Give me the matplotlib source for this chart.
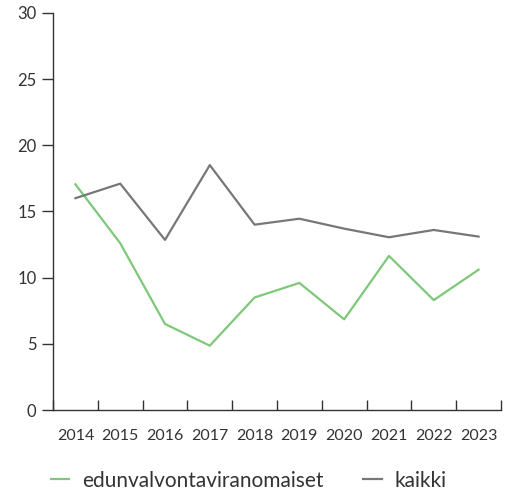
import matplotlib
matplotlib.use("Agg")
import matplotlib.pyplot as plt
import numpy as np

plt.rcParams["font.family"] = ["Lato", "DejaVu Sans"]

# Data
years = ["2014", "2015", "2016", "2017", "2018", "2019", "2020", "2021", "2022", "2023"]
edunvalvonta = [17.05, 12.6, 6.5, 4.86, 8.5, 9.6, 6.85, 11.64, 8.3, 10.6]
kaikki = [16.0, 17.1, 12.85, 18.5, 14.0, 14.45, 13.7, 13.05, 13.6, 13.1]

GREEN = "#7ec87a"
GREY = "#77777b"
TEXT = "#333333"

fig = plt.figure(figsize=(5.05, 4.94), dpi=100)
ax = fig.add_axes([0.105, 0.170, 0.887, 0.804])

x = np.arange(len(years))
ax.plot(x, edunvalvonta, color=GREEN, lw=1.6, label="edunvalvontaviranomaiset")
ax.plot(x, kaikki, color=GREY, lw=1.6, label="kaikki")

ax.set_xlim(-0.5, len(years) - 0.5)
ax.set_ylim(0, 30)
ax.set_yticks(range(0, 31, 5))

# category labels centred, tick marks on band edges
ax.set_xticks(x)
ax.set_xticklabels(years)
ax.set_xticks(np.arange(-0.5, len(years)), minor=True)
ax.tick_params(axis="x", which="major", length=0, pad=14, labelsize=11.5, labelcolor=TEXT)
ax.tick_params(axis="x", which="minor", direction="in", length=7, width=1, color="#333333")
ax.tick_params(axis="y", direction="out", length=8, width=1, color="#333333",
               labelsize=12, labelcolor=TEXT, pad=4)

for s in ["top", "right"]:
    ax.spines[s].set_visible(False)
for s in ["left", "bottom"]:
    ax.spines[s].set_color("#333333")
    ax.spines[s].set_linewidth(1)

fig.legend(loc="center", bbox_to_anchor=(0.492, 0.027), ncol=2, frameon=False,
           fontsize=15, handlelength=0.9, handletextpad=0.6, columnspacing=1.9,
           labelcolor=TEXT)

fig.savefig("out.png", dpi=100)
